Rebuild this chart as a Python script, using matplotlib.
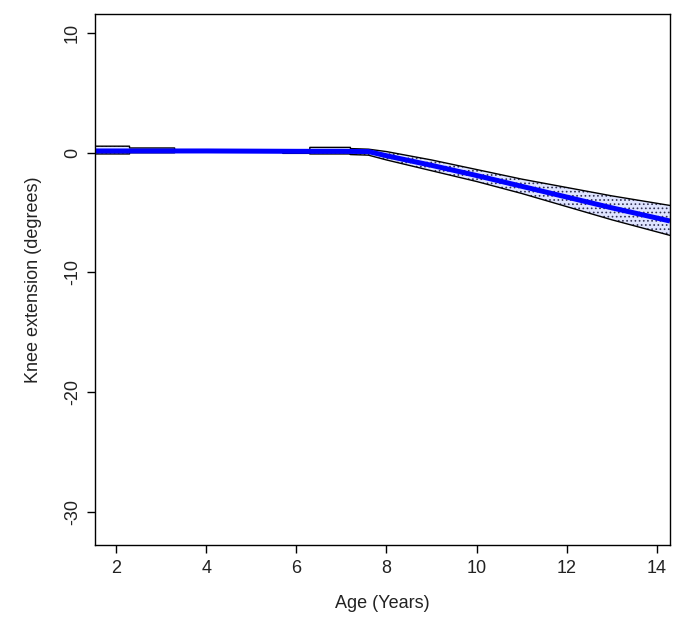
import matplotlib
matplotlib.use("Agg")
import matplotlib.pyplot as plt
import numpy as np

plt.rcParams['font.family'] = ['Liberation Sans', 'DejaVu Sans']
plt.rcParams['hatch.linewidth'] = 0.7
plt.rcParams['hatch.color'] = '#333355'

# fitted curve
age = [1.53, 2.5, 4.0, 6.0, 7.0, 7.6, 8.0, 9.0, 10.0, 11.0, 12.0, 13.0, 14.29]
fit = [0.15, 0.15, 0.15, 0.12, 0.12, 0.1, -0.25, -1.05, -1.9, -2.8, -3.7, -4.6, -5.7]

# confidence band
band_age = [1.53, 2.3, 2.3, 3.3, 3.3, 5.7, 5.7, 6.3, 6.3, 7.2, 7.2, 7.6, 8.0, 9.0, 10.0, 11.0, 12.0, 13.0, 14.29]
band_upper = [0.55, 0.55, 0.4, 0.4, 0.25, 0.25, 0.2, 0.2, 0.45, 0.45, 0.35, 0.3, 0.1, -0.6, -1.4, -2.2, -2.9, -3.6, -4.4]
band_lower = [-0.1, -0.1, 0.0, 0.0, 0.05, 0.05, -0.05, -0.05, -0.1, -0.1, -0.15, -0.2, -0.6, -1.5, -2.4, -3.4, -4.5, -5.6, -6.9]

xticks = [2, 4, 6, 8, 10, 12, 14]
yticks = [10, 0, -10, -20, -30]

fig = plt.figure(figsize=(6.85, 6.2), dpi=100)
ax = fig.add_axes([95/685, 75/620, 575/685, 531/620])

ax.fill_between(band_age, band_lower, band_upper, facecolor='#dfe4ff',
                edgecolor='#333355', hatch='....', linewidth=0)
ax.plot(band_age, band_upper, color='black', lw=1.0)
ax.plot(band_age, band_lower, color='black', lw=1.0)
ax.plot(age, fit, color='#0000ff', lw=3.6, solid_capstyle='butt')

ax.set_xlim(1.534, 14.29)
ax.set_ylim(-32.76, 11.59)
ax.set_xticks(xticks)
ax.set_yticks(yticks)
ax.set_yticklabels([str(v) for v in yticks], rotation=90, va='center')
ax.tick_params(direction='out', length=6, width=1, labelsize=13, pad=5, labelcolor='#222222')
ax.tick_params(axis='y', pad=4)
for s in ax.spines.values():
    s.set_linewidth(1)
ax.set_xlabel('Age (Years)', fontsize=13, labelpad=13, color='#222222')
ax.set_ylabel('Knee extension (degrees)', fontsize=13, labelpad=16, color='#222222')

fig.savefig('out.png', dpi=100)
